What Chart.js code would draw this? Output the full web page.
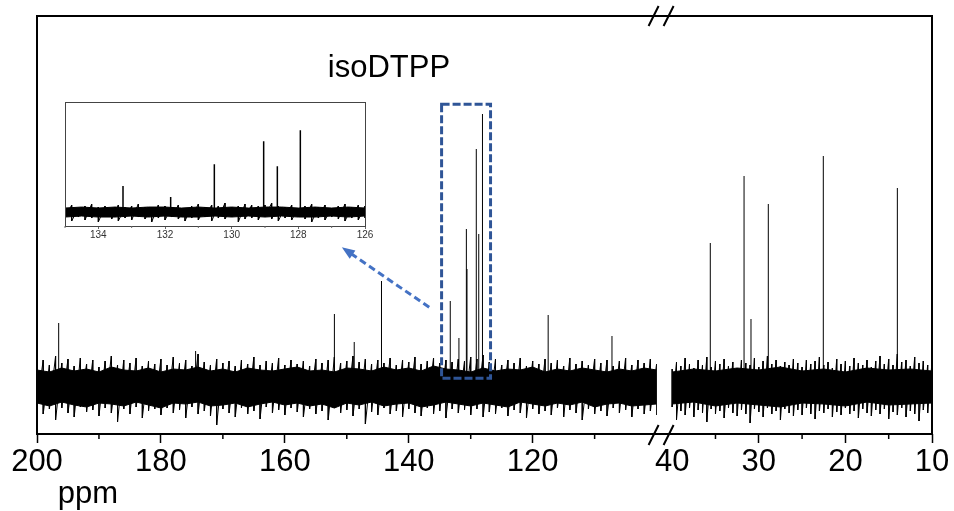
<!DOCTYPE html>
<html>
<head>
<meta charset="utf-8">
<script src="https://cdn.jsdelivr.net/npm/chart.js@4.4.1/dist/chart.umd.min.js"></script>
<style>
  html, body { margin: 0; padding: 0; background: #fff; }
  #wrap { position: relative; width: 954px; height: 511px; }
  #main { position: absolute; left: 0; top: 0; }
  #inset { position: absolute; left: 40px; top: 95px; }
</style>
</head>
<body>
<div id="wrap">
  <canvas id="main" width="954" height="511"></canvas>
  <canvas id="inset" width="340" height="150"></canvas>
</div>
<script>
const FONT = "'Liberation Sans', Arial, sans-serif";

// peaks, left segment (200-100 ppm) and right segment (40-10 ppm)
const peakPpmLeft = [196.5, 174.4, 152.0, 148.8, 144.4, 133.3, 131.9, 130.7, 130.6, 129.1, 128.7, 128.1, 117.5, 107.2];
const peakHeightLeft = [64, 36, 73, 45, 106, 86, 49, 158, 118, 238, 153, 273, 72, 51];
const peakPpmRight = [35.6, 31.7, 30.9, 28.9, 22.55, 14.0];
const peakHeightRight = [144, 211, 68, 183, 231, 199];

// noise spike tips, 200 -> 100 ppm every 1 ppm
const noiseTopLeft = [
  20, 27, 22, 31, 24, 28, 21, 29, 23, 27,
  20, 26, 31, 22, 27, 24, 29, 21, 26, 23,
  28, 22, 30, 24, 27, 21, 33, 25, 22, 28,
  24, 26, 21, 27, 23, 30, 22, 26, 24, 29,
  22, 27, 23, 26, 21, 28, 24, 27, 30, 24,
  26, 31, 25, 28, 23, 27, 24, 29, 22, 27,
  25, 30, 23, 26, 29, 24, 27, 25, 28, 26,
  30, 28, 32, 25, 28, 22, 27, 24, 29, 21,
  26, 23, 28, 24, 27, 21, 29, 23, 26, 22,
  28, 24, 27, 21, 26, 29, 22, 27, 24, 28,
  23];
const noiseBotLeft = [
  -19, -27, -22, -33, -21, -26, -30, -20, -25, -23,
  -29, -21, -26, -35, -22, -27, -20, -31, -24, -22,
  -28, -21, -26, -23, -31, -20, -27, -24, -29, -38,
  -22, -26, -30, -21, -27, -24, -32, -20, -26, -23,
  -28, -21, -25, -30, -22, -27, -24, -33, -21, -26,
  -23, -29, -22, -37, -25, -28, -21, -27, -24, -30,
  -22, -26, -29, -21, -27, -24, -31, -22, -26, -23,
  -28, -22, -30, -25, -27, -21, -29, -23, -26, -31,
  -22, -27, -24, -28, -21, -30, -23, -26, -33, -22,
  -27, -24, -29, -21, -26, -23, -30, -22, -27, -24,
  -28];
// solid core of the noise band, 200 -> 100 ppm every 2 ppm
const coreTopLeft = [
  17, 15, 19, 16, 18, 15, 20, 17, 16, 19,
  15, 18, 17, 20, 16, 18, 15, 19, 17, 16,
  18, 20, 16, 17, 15, 19, 18, 16, 20, 17,
  19, 16, 21, 18, 17, 15, 19, 16, 18, 17,
  20, 15, 18, 16, 19, 17, 15, 18, 16, 19,
  17];
const coreBotLeft = [
  -16, -19, -15, -18, -20, -16, -17, -19, -15, -18,
  -21, -16, -17, -15, -19, -18, -16, -20, -17, -15,
  -18, -16, -19, -17, -21, -16, -18, -15, -19, -17,
  -16, -20, -18, -15, -17, -19, -16, -18, -20, -15,
  -17, -19, -16, -18, -15, -20, -17, -16, -19, -18,
  -17];

// 40 -> 10 ppm every 0.5 ppm
const noiseTopRight = [
  18, 25, 21, 29, 23, 19, 27, 22, 30, 20,
  26, 23, 28, 21, 25, 19, 27, 24, 22, 29,
  20, 26, 31, 23, 27, 21, 25, 22, 28, 24,
  20, 27, 23, 26, 30, 22, 25, 19, 28, 23,
  26, 21, 29, 24, 22, 27, 20, 26, 31, 23,
  28, 22, 33, 25, 27, 21, 30, 24, 26, 22,
  25];
const noiseBotRight = [
  -20, -33, -24, -28, -21, -30, -23, -26, -35, -22,
  -27, -24, -31, -21, -26, -29, -23, -27, -36, -22,
  -25, -30, -21, -27, -24, -33, -22, -26, -29, -23,
  -28, -21, -27, -32, -24, -26, -22, -30, -25, -28,
  -21, -27, -24, -31, -22, -26, -29, -23, -27, -22,
  -32, -25, -28, -21, -30, -24, -27, -34, -23, -26,
  -29];
// 40 -> 10 ppm every 2.5 ppm
const coreTopRight = [15, 18, 16, 19, 17, 20, 16, 18, 15, 19, 17, 18, 16];
const coreBotRight = [-17, -15, -19, -16, -18, -20, -16, -17, -19, -15, -18, -17, -16];

// inset 135 -> 126 ppm
const insetPeakPpm = [133.26, 131.83, 130.52, 129.04, 128.63, 127.94];
const insetPeakHeight = [26, 15, 48, 71, 46, 82];
// every 0.2 ppm
const insetTop = [
  5, 7, 4, 6, 8, 5, 6, 4, 7, 5,
  6, 8, 5, 4, 7, 6, 5, 7, 4, 6,
  8, 5, 7, 6, 9, 5, 6, 8, 7, 6,
  7, 9, 6, 5, 7, 4, 6, 8, 5, 7,
  4, 6, 8, 5, 7, 6];
const insetBot = [
  -6, -9, -5, -8, -6, -10, -5, -7, -9, -6,
  -8, -5, -7, -10, -6, -8, -5, -7, -9, -6,
  -8, -5, -9, -6, -7, -5, -10, -7, -6, -8,
  -5, -7, -9, -6, -8, -5, -7, -10, -6, -8,
  -5, -7, -9, -6, -8, -6];
// every 0.5 ppm
const insetCoreTop = [4, 5, 4, 5, 4, 5, 5, 4, 5, 4, 5, 4, 5, 5, 4, 5, 4, 5, 4];
const insetCoreBot = [-5, -4, -5, -5, -4, -5, -4, -5, -5, -4, -5, -4, -5, -4, -5, -5, -4, -5, -4];

const majorLeft = 20, majorRight = 10, majorInset = 2;
const minorLeft = [190, 170, 150, 130, 110];
const minorRight = [35, 25, 15];
const minorInset = [135, 133, 131, 129, 127];

function stickPoints(ppm, height) {
  const pts = [];
  for (let i = 0; i < ppm.length; i++) {
    pts.push({x: ppm[i], y: 0}, {x: ppm[i], y: height[i]}, {x: ppm[i], y: null});
  }
  return pts;
}
function bandPoints(start, step, values) {
  return values.map((v, i) => ({x: start - i * step, y: v}));
}
// each sample drawn as a stroke from its upper tip to its lower tip
function zigzagPoints(start, step, top, bot) {
  const pts = [];
  for (let i = 0; i < top.length; i++) {
    const x = start - i * step;
    pts.push({x: x, y: top[i]}, {x: x, y: bot[i]});
  }
  return pts;
}
function band(axis, data, fill) {
  return {data: data, xAxisID: axis, fill: fill, backgroundColor: '#000', borderColor: '#000',
    borderWidth: 1, pointRadius: 0, tension: 0};
}
function sticks(axis, data, w) {
  return {data: data, xAxisID: axis, fill: false, borderColor: '#000', borderWidth: w, pointRadius: 0, tension: 0};
}
function minorTicks(ctx, scale, values, len, color, width) {
  ctx.save();
  ctx.strokeStyle = color;
  ctx.lineWidth = width;
  ctx.beginPath();
  for (const v of values) {
    const px = scale.getPixelForValue(v);
    ctx.moveTo(px, scale.top);
    ctx.lineTo(px, scale.top + len);
  }
  ctx.stroke();
  ctx.restore();
}

const mainDecor = {
  id: 'mainDecor',
  afterDraw(chart) {
    const ctx = chart.ctx, a = chart.chartArea;
    const xL = chart.scales.xL, y = chart.scales.y;
    ctx.save();
    ctx.strokeStyle = '#000';
    ctx.lineWidth = 2;
    ctx.strokeRect(a.left, a.top, a.right - a.left, a.bottom - a.top);
    minorTicks(ctx, xL, minorLeft, 5, '#000', 1.5);
    minorTicks(ctx, chart.scales.xR, minorRight, 5, '#000', 1.5);
    // axis break marks
    const bx = xL.right;
    ctx.lineWidth = 2;
    ctx.beginPath();
    for (const cx of [bx - 3, bx + 12]) {
      for (const cy of [a.top, a.bottom + 1]) {
        ctx.moveTo(cx - 5, cy + 10);
        ctx.lineTo(cx + 5, cy - 10);
      }
    }
    ctx.stroke();
    // labels
    ctx.fillStyle = '#000';
    ctx.font = '31px ' + FONT;
    ctx.textAlign = 'center';
    ctx.textBaseline = 'alphabetic';
    ctx.fillText('ppm', 88, 503);
    ctx.fillText('isoDTPP', xL.getPixelForValue(143.2), y.getPixelForValue(310));
    // dashed box round the aromatic peaks
    ctx.strokeStyle = '#2F5597';
    ctx.lineWidth = 3;
    ctx.setLineDash([8, 3]);
    const bl = xL.getPixelForValue(134.7), br = xL.getPixelForValue(126.8);
    const bt = y.getPixelForValue(282.7), bb = y.getPixelForValue(8.7);
    ctx.strokeRect(bl, bt, br - bl, bb - bt);
    // arrow to the inset
    const x0 = xL.getPixelForValue(136.7), y0 = y.getPixelForValue(79.7);
    const x1 = xL.getPixelForValue(150.8), y1 = y.getPixelForValue(139.7);
    const ang = Math.atan2(y1 - y0, x1 - x0);
    ctx.strokeStyle = '#4472C4';
    ctx.fillStyle = '#4472C4';
    ctx.setLineDash([7, 4]);
    ctx.beginPath();
    ctx.moveTo(x0, y0);
    ctx.lineTo(x1 - 10 * Math.cos(ang), y1 - 10 * Math.sin(ang));
    ctx.stroke();
    ctx.setLineDash([]);
    ctx.beginPath();
    ctx.moveTo(x1, y1);
    ctx.lineTo(x1 - 13 * Math.cos(ang) + 5 * Math.sin(ang), y1 - 13 * Math.sin(ang) - 5 * Math.cos(ang));
    ctx.lineTo(x1 - 13 * Math.cos(ang) - 5 * Math.sin(ang), y1 - 13 * Math.sin(ang) + 5 * Math.cos(ang));
    ctx.closePath();
    ctx.fill();
    ctx.restore();
  }
};

function hideAt(values) {
  return c => (c.tick && values.includes(c.tick.value)) ? 'rgba(0,0,0,0)' : '#000';
}
function xAxis(min, max, weight, step, hidden) {
  return {
    type: 'linear', position: 'bottom', stack: 'ppm', stackWeight: weight,
    reverse: true, min: min, max: max,
    afterFit: s => { s.height = 77; },
    grid: {drawOnChartArea: false, drawTicks: true, tickLength: 9, tickWidth: 1.5, tickColor: hideAt(hidden)},
    border: {display: false},
    ticks: {stepSize: step, includeBounds: false, autoSkip: false, maxRotation: 0, padding: 1,
      color: '#000', font: {family: FONT, size: 31},
      callback: v => v === 100 ? '' : v}
  };
}

new Chart(document.getElementById('main'), {
  type: 'line',
  data: {
    datasets: [
      band('xL', bandPoints(200, 2, coreTopLeft), '+1'),
      band('xL', bandPoints(200, 2, coreBotLeft), false),
      sticks('xL', zigzagPoints(200, 1, noiseTopLeft, noiseBotLeft), 1),
      sticks('xL', stickPoints(peakPpmLeft, peakHeightLeft), 1),
      band('xR', bandPoints(40, 2.5, coreTopRight), '+1'),
      band('xR', bandPoints(40, 2.5, coreBotRight), false),
      sticks('xR', zigzagPoints(40, 0.5, noiseTopRight, noiseBotRight), 1),
      sticks('xR', stickPoints(peakPpmRight, peakHeightRight), 1)
    ]
  },
  options: {
    responsive: false, animation: false, devicePixelRatio: 1,
    layout: {padding: {left: 37, right: 22, top: 16, bottom: 0}},
    plugins: {legend: {display: false}, tooltip: {enabled: false}},
    scales: {
      xL: xAxis(100, 200, 620, majorLeft, [100]),
      xR: xAxis(10, 41.8, 275.6, majorRight, [40]),
      y: {display: false, min: -47, max: 371}
    }
  },
  plugins: [mainDecor]
});

const insetDecor = {
  id: 'insetDecor',
  afterDraw(chart) {
    const ctx = chart.ctx, a = chart.chartArea;
    ctx.save();
    ctx.strokeStyle = '#444';
    ctx.lineWidth = 1;
    ctx.strokeRect(a.left + 0.5, a.top + 0.5, a.right - a.left, a.bottom - a.top);
    minorTicks(ctx, chart.scales.x, minorInset, 2, '#666', 1);
    ctx.restore();
  }
};

new Chart(document.getElementById('inset'), {
  type: 'line',
  data: {
    datasets: [
      band('x', bandPoints(135, 0.5, insetCoreTop), '+1'),
      band('x', bandPoints(135, 0.5, insetCoreBot), false),
      sticks('x', zigzagPoints(135, 0.2, insetTop, insetBot), 1),
      sticks('x', stickPoints(insetPeakPpm, insetPeakHeight), 1.5)
    ]
  },
  options: {
    responsive: false, animation: false, devicePixelRatio: 1,
    layout: {padding: {left: 25, right: 15, top: 7, bottom: 0}},
    plugins: {legend: {display: false}, tooltip: {enabled: false}},
    scales: {
      x: {
        type: 'linear', reverse: true, min: 126, max: 135,
        afterFit: s => { s.height = 19; },
        grid: {drawOnChartArea: false, tickLength: 3, tickWidth: 1, tickColor: '#666'},
        border: {display: false},
        ticks: {stepSize: majorInset, includeBounds: false, autoSkip: false, maxRotation: 0, padding: 0,
          color: '#333', font: {family: FONT, size: 10}}
      },
      y: {display: false, min: -14, max: 110.3}
    }
  },
  plugins: [insetDecor]
});
</script>
</body>
</html>
